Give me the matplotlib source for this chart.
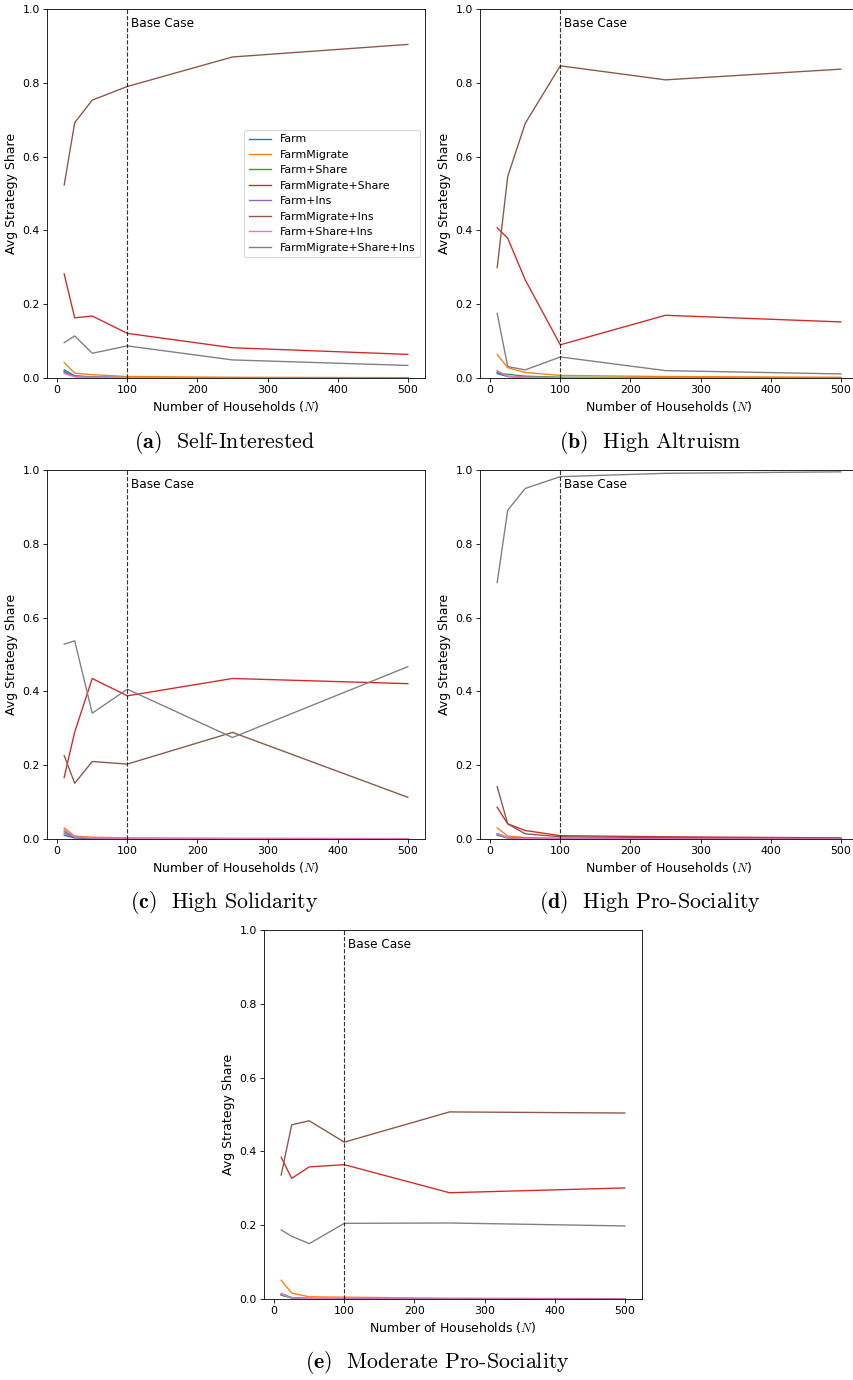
import matplotlib
matplotlib.use("Agg")
import matplotlib.pyplot as plt

plt.rcParams['mathtext.fontset'] = 'cm'

households = [10, 25, 50, 100, 250, 500]
strategies = ["Farm", "FarmMigrate", "Farm+Share", "FarmMigrate+Share",
              "Farm+Ins", "FarmMigrate+Ins", "Farm+Share+Ins", "FarmMigrate+Share+Ins"]

# (a) Self-Interested
self_interested = [
    [0.022, 0.006, 0.003, 0.001, 0.001, 0.000],
    [0.042, 0.013, 0.009, 0.004, 0.002, 0.001],
    [0.018, 0.005, 0.002, 0.001, 0.000, 0.000],
    [0.282, 0.163, 0.168, 0.121, 0.082, 0.064],
    [0.016, 0.004, 0.002, 0.001, 0.000, 0.000],
    [0.523, 0.692, 0.753, 0.790, 0.870, 0.904],
    [0.012, 0.003, 0.002, 0.001, 0.000, 0.000],
    [0.096, 0.114, 0.067, 0.087, 0.049, 0.034],
]
# (b) High Altruism
high_altruism = [
    [0.012, 0.004, 0.002, 0.001, 0.000, 0.000],
    [0.064, 0.028, 0.015, 0.007, 0.004, 0.002],
    [0.014, 0.010, 0.005, 0.002, 0.001, 0.000],
    [0.407, 0.379, 0.266, 0.090, 0.170, 0.152],
    [0.018, 0.004, 0.002, 0.001, 0.000, 0.000],
    [0.299, 0.546, 0.690, 0.846, 0.808, 0.837],
    [0.020, 0.005, 0.002, 0.001, 0.000, 0.000],
    [0.175, 0.031, 0.022, 0.057, 0.020, 0.011],
]
# (c) High Solidarity
high_solidarity = [
    [0.010, 0.003, 0.001, 0.001, 0.000, 0.000],
    [0.030, 0.008, 0.005, 0.003, 0.002, 0.001],
    [0.020, 0.005, 0.002, 0.001, 0.000, 0.000],
    [0.167, 0.290, 0.435, 0.388, 0.435, 0.421],
    [0.015, 0.004, 0.002, 0.001, 0.000, 0.000],
    [0.226, 0.151, 0.210, 0.203, 0.289, 0.113],
    [0.025, 0.006, 0.003, 0.002, 0.001, 0.001],
    [0.528, 0.537, 0.341, 0.406, 0.275, 0.467],
]
# (d) High Pro-Sociality
high_prosociality = [
    [0.012, 0.003, 0.001, 0.001, 0.000, 0.000],
    [0.030, 0.008, 0.004, 0.002, 0.001, 0.000],
    [0.010, 0.003, 0.001, 0.000, 0.000, 0.000],
    [0.086, 0.041, 0.023, 0.009, 0.006, 0.003],
    [0.015, 0.004, 0.002, 0.001, 0.000, 0.000],
    [0.142, 0.041, 0.014, 0.006, 0.004, 0.002],
    [0.013, 0.003, 0.001, 0.000, 0.000, 0.000],
    [0.695, 0.891, 0.950, 0.982, 0.991, 0.995],
]
# (e) Moderate Pro-Sociality
moderate_prosociality = [
    [0.012, 0.003, 0.001, 0.001, 0.000, 0.000],
    [0.051, 0.016, 0.006, 0.005, 0.002, 0.001],
    [0.010, 0.003, 0.001, 0.000, 0.000, 0.000],
    [0.384, 0.327, 0.358, 0.364, 0.288, 0.301],
    [0.015, 0.004, 0.002, 0.001, 0.000, 0.000],
    [0.336, 0.472, 0.483, 0.425, 0.507, 0.504],
    [0.013, 0.003, 0.001, 0.000, 0.000, 0.000],
    [0.187, 0.170, 0.150, 0.205, 0.206, 0.198],
]

captions = [r"$\mathbf{(a)}$  Self-Interested", r"$\mathbf{(b)}$  High Altruism",
            r"$\mathbf{(c)}$  High Solidarity", r"$\mathbf{(d)}$  High Pro-Sociality",
            r"$\mathbf{(e)}$  Moderate Pro-Sociality"]
panels = [self_interested, high_altruism, high_solidarity, high_prosociality,
          moderate_prosociality]

W, H = 853, 1380
DPI = 75
fig = plt.figure(figsize=(W / DPI, H / DPI), dpi=DPI)

# pixel boxes: left, right, top, bottom ; caption center x, y
boxes = [(47, 425, 9, 378), (480, 858, 9, 378),
         (47, 425, 470, 839), (480, 858, 470, 839),
         (264, 642, 930, 1299)]
cap_pos = [(224, 442), (650, 442), (224, 902), (650, 902), (437, 1362)]

colors = plt.rcParams['axes.prop_cycle'].by_key()['color']

for i, (data, box) in enumerate(zip(panels, boxes)):
    l, r, t, b = box
    ax = fig.add_axes([l / W, 1 - b / H, (r - l) / W, (b - t) / H])
    for j, name in enumerate(strategies):
        ax.plot(households, data[j], color=colors[j], lw=1.3, label=name)
    ax.axvline(100, color='k', linestyle='--', lw=1.1, alpha=0.8)
    ax.text(105, 0.95, "Base Case", fontsize=11.5)
    ax.set_ylim(0, 1.0)
    ax.set_xlabel("Number of Households ($N$)", fontsize=12)
    ax.set_ylabel("Avg Strategy Share", fontsize=12)
    ax.tick_params(labelsize=10.5)
    if i == 0:
        ax.legend(loc='center right', fontsize=10.5)
    cx, cy = cap_pos[i]
    fig.text(cx / W, 1 - cy / H, captions[i], fontsize=21, family='cmr10',
             ha='center', va='center')

fig.savefig("out.png", dpi=DPI)
